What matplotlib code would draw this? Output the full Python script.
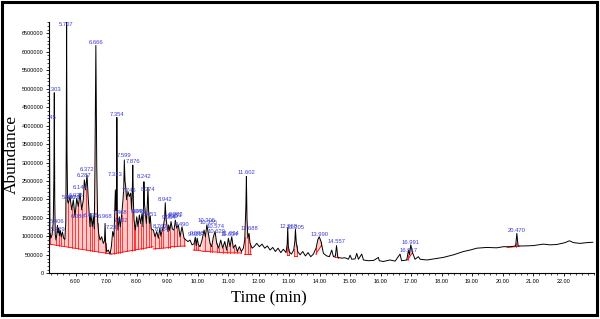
import numpy as np
import matplotlib.pyplot as plt
from matplotlib.ticker import MultipleLocator, FormatStrFormatter
from matplotlib.patches import Rectangle

plt.rcParams['font.family'] = ['Liberation Sans', 'DejaVu Sans']

# total ion chromatogram, time in min, abundance in millions
time = [5.130, 5.145, 5.160, 5.190, 5.230, 5.270, 5.290, 5.303, 5.318, 5.335,
        5.360, 5.385, 5.406, 5.425, 5.449, 5.470, 5.500, 5.530, 5.570, 5.610,
        5.650, 5.680, 5.695, 5.707, 5.720, 5.740, 5.763, 5.818, 5.873, 5.927,
        5.982, 6.037, 6.091, 6.146, 6.201, 6.255, 6.288, 6.332, 6.376, 6.419,
        6.474, 6.500, 6.550, 6.583, 6.615, 6.635, 6.666, 6.695, 6.725, 6.758,
        6.802, 6.857, 6.911, 6.950, 6.968, 6.985, 7.021, 7.075, 7.130, 7.174,
        7.217, 7.261, 7.305, 7.330, 7.342, 7.354, 7.370, 7.392, 7.436, 7.469,
        7.512, 7.556, 7.580, 7.599, 7.620, 7.644, 7.676, 7.720, 7.764, 7.808,
        7.840, 7.860, 7.876, 7.895, 7.917, 7.961, 8.005, 8.048, 8.092, 8.136,
        8.179, 8.212, 8.228, 8.242, 8.258, 8.289, 8.322, 8.350, 8.374, 8.395,
        8.420, 8.451, 8.480, 8.551, 8.606, 8.660, 8.715, 8.763, 8.800, 8.824,
        8.879, 8.920, 8.942, 8.965, 8.988, 9.032, 9.054, 9.090, 9.130, 9.174,
        9.229, 9.273, 9.316, 9.371, 9.426, 9.491, 9.557, 9.623, 9.688, 9.754,
        9.819, 9.885, 9.926, 9.955, 9.988, 10.027, 10.082, 10.148, 10.213, 10.257,
        10.306, 10.355, 10.410, 10.465, 10.519, 10.574, 10.629, 10.694, 10.760, 10.825,
        10.891, 10.956, 11.011, 11.066, 11.121, 11.175, 11.241, 11.306, 11.372, 11.438,
        11.503, 11.547, 11.585, 11.602, 11.620, 11.650, 11.688, 11.722, 11.788, 11.853,
        11.941, 12.028, 12.115, 12.203, 12.290, 12.378, 12.465, 12.553, 12.640, 12.728,
        12.815, 12.903, 12.940, 12.957, 12.975, 13.001, 13.077, 13.154, 13.190, 13.210,
        13.235, 13.285, 13.362, 13.449, 13.537, 13.624, 13.712, 13.799, 13.887, 13.941,
        13.990, 14.050, 14.127, 14.236, 14.324, 14.400, 14.455, 14.520, 14.557, 14.600,
        14.728, 14.838, 14.947, 15.002, 15.056, 15.166, 15.220, 15.275, 15.384, 15.439,
        15.603, 15.780, 15.930, 15.960, 16.090, 16.310, 16.480, 16.640, 16.690, 16.860,
        16.917, 16.950, 16.991, 17.050, 17.130, 17.240, 17.300, 17.520, 17.840, 18.060,
        18.390, 18.720, 18.940, 19.160, 19.480, 19.810, 20.030, 20.250, 20.430, 20.470,
        20.510, 20.690, 21.010, 21.340, 21.560, 21.780, 22.050, 22.190, 22.330, 22.550,
        22.760, 22.960]
abund = [1.80, 4.20, 1.10, 0.95, 1.05, 1.40, 2.60, 4.89, 2.00, 1.05,
         0.90, 1.05, 1.30, 1.10, 1.22, 1.02, 1.16, 0.98, 1.12, 0.95,
         0.92, 1.40, 3.50, 6.79, 3.20, 1.95, 1.90, 2.08, 1.72, 1.99,
         1.53, 2.03, 1.81, 2.17, 1.72, 1.99, 2.53, 2.26, 2.66, 1.99,
         1.26, 1.62, 1.26, 1.53, 1.20, 2.80, 6.17, 2.90, 1.40, 1.08,
         0.90, 0.99, 0.81, 0.88, 1.35, 0.85, 0.59, 0.63, 0.52, 0.72,
         1.13, 0.99, 2.26, 1.70, 1.80, 4.22, 1.60, 1.17, 1.53, 1.26,
         1.58, 1.99, 2.30, 3.07, 2.50, 2.35, 1.99, 2.21, 2.08, 2.17,
         1.72, 2.20, 2.93, 2.00, 1.44, 1.17, 1.53, 1.26, 1.58, 1.35,
         1.62, 1.26, 1.80, 2.48, 1.90, 1.62, 1.35, 1.80, 2.33, 1.70,
         1.35, 1.55, 1.20, 1.17, 0.99, 1.13, 0.95, 1.22, 1.00, 1.10,
         1.26, 1.50, 1.91, 1.50, 1.35, 1.13, 1.31, 1.15, 1.40, 1.20,
         1.17, 1.44, 1.22, 1.31, 0.99, 1.26, 0.95, 0.90, 0.86, 0.90,
         0.77, 0.80, 0.98, 0.75, 0.95, 0.78, 0.72, 0.90, 1.17, 0.99,
         1.31, 1.08, 0.81, 0.72, 0.99, 1.13, 0.81, 0.68, 0.90, 0.68,
         0.86, 0.63, 0.95, 0.72, 0.99, 0.68, 0.77, 0.59, 0.72, 0.59,
         0.68, 0.90, 1.80, 2.62, 1.50, 0.95, 1.08, 0.81, 0.68, 0.72,
         0.81, 0.72, 0.79, 0.68, 0.74, 0.63, 0.70, 0.59, 0.68, 0.56,
         0.65, 0.56, 0.80, 1.24, 0.75, 0.59, 0.52, 0.63, 0.85, 1.19,
         0.85, 0.59, 0.50, 0.59, 0.47, 0.56, 0.45, 0.52, 0.68, 0.90,
         0.99, 0.86, 0.54, 0.47, 0.45, 0.63, 0.45, 0.47, 0.75, 0.43,
         0.41, 0.42, 0.38, 0.49, 0.38, 0.39, 0.54, 0.38, 0.52, 0.36,
         0.34, 0.35, 0.43, 0.34, 0.32, 0.36, 0.33, 0.52, 0.34, 0.36,
         0.63, 0.50, 0.77, 0.56, 0.38, 0.45, 0.38, 0.36, 0.40, 0.43,
         0.50, 0.59, 0.63, 0.68, 0.70, 0.69, 0.72, 0.72, 0.74, 1.08,
         0.74, 0.74, 0.75, 0.79, 0.77, 0.78, 0.83, 0.88, 0.83, 0.81,
         0.83, 0.84]

# integration baselines: start, end, start level, end level (millions)
seg_start = [5.13, 7.18, 8.55, 9.12, 9.86, 10.12, 10.72, 11.52, 12.92, 13.15, 13.88, 14.50, 16.88, 20.15]
seg_end = [7.18, 8.55, 9.12, 9.60, 10.10, 10.70, 11.45, 11.75, 13.00, 13.26, 14.06, 14.62, 17.05, 20.55]
seg_b0 = [0.79, 0.52, 0.66, 0.72, 0.63, 0.60, 0.56, 0.52, 0.50, 0.47, 0.52, 0.43, 0.36, 0.70]
seg_b1 = [0.52, 0.72, 0.70, 0.74, 0.62, 0.57, 0.55, 0.52, 0.50, 0.47, 0.75, 0.42, 0.56, 0.73]

# peak split times (red drop lines)
drops = [5.16, 5.36, 5.47, 5.53, 5.61, 5.74, 5.87, 5.98, 6.09, 6.20, 6.33, 6.47, 6.55, 6.61,
         6.73, 6.95, 6.99, 7.26, 7.33, 7.39, 7.47, 7.51, 7.68, 7.84, 7.92, 7.96, 8.05, 8.14,
         8.21, 8.32, 8.42, 8.48, 8.61, 8.72, 8.80, 8.88, 9.03, 9.09, 9.23, 9.32, 9.43, 9.56,
         9.89, 9.96, 10.03, 10.26, 10.41, 10.47, 10.63, 10.69, 10.83, 10.96, 11.07, 11.18,
         11.31, 11.44, 11.55, 11.65, 11.72, 12.93, 12.99, 13.16, 13.25, 13.89, 14.05, 14.52,
         14.60, 16.89, 17.04, 20.44, 20.51]

peak_names = ["5.145", "5.303", "5.406", "5.429", "5.707", "5.830", "5.979", "6.036", "6.086",
              "6.144", "6.287", "6.372", "6.496", "6.666", "6.968", "7.232", "7.313", "7.354",
              "7.468", "7.502", "7.599", "7.746", "7.876", "8.048", "8.092", "8.242", "8.374",
              "8.451", "8.763", "8.824", "8.942", "9.054", "9.130", "9.251", "9.282", "9.490",
              "9.926", "9.988", "10.306", "10.355", "10.574", "10.629", "11.034", "11.094",
              "11.602", "11.688", "12.968", "13.205", "13.990", "14.557", "16.917", "16.991",
              "20.470"]
peak_t = [5.145, 5.303, 5.406, 5.430, 5.707, 5.800, 5.930, 6.020, 6.070,
          6.144, 6.287, 6.372, 6.496, 6.666, 6.968, 7.232, 7.313, 7.354,
          7.468, 7.502, 7.599, 7.746, 7.876, 8.048, 8.092, 8.242, 8.374,
          8.451, 8.763, 8.824, 8.942, 9.054, 9.130, 9.251, 9.282, 9.490,
          9.926, 9.988, 10.306, 10.355, 10.574, 10.629, 11.034, 11.094,
          11.602, 11.688, 12.968, 13.205, 13.990, 14.557, 16.917, 16.991,
          20.470]
peak_lab = [4.23, 4.98, 1.40, 1.19, 6.73, 2.05, 2.06, 2.12, 1.55,
            2.31, 2.64, 2.81, 1.57, 6.25, 1.53, 1.25, 2.68, 4.31,
            1.64, 1.42, 3.18, 2.24, 3.02, 1.67, 1.67, 2.61, 2.28,
            1.58, 1.28, 1.19, 2.00, 1.51, 1.55, 1.57, 1.60, 1.31,
            1.05, 1.08, 1.42, 1.38, 1.28, 1.12, 1.04, 1.08,
            2.72, 1.20, 1.28, 1.25, 1.06, 0.85, 0.63, 0.84,
            1.17]

t = np.array(time)
a = np.array(abund) * 1e6

fig = plt.figure(figsize=(6, 3.19), dpi=100)
ax = fig.add_axes([0.0817, 0.1433, 0.9083, 0.7887])

# integrated areas
for t0, t1, b0, b1 in zip(seg_start, seg_end, seg_b0, seg_b1):
    inside = (t > t0) & (t < t1)
    st = np.concatenate([[t0], t[inside], [t1]])
    sa = np.interp(st, t, a)
    sb = np.interp(st, [t0, t1], [b0 * 1e6, b1 * 1e6])
    ax.fill_between(st, sb, sa, where=sa > sb, interpolate=True,
                    color='#ff8a8a', alpha=0.45, lw=0, zorder=1)
    ax.plot([t0, t1], [b0 * 1e6, b1 * 1e6], color='red', lw=0.6, zorder=2)
    for d in drops:
        if t0 <= d <= t1:
            bd = np.interp(d, [t0, t1], [b0 * 1e6, b1 * 1e6])
            ax.plot([d, d], [bd, np.interp(d, t, a)], color='red', lw=0.5, zorder=2)

ax.plot(t, a, color='black', lw=0.7, zorder=3)

for name, pt, pl in zip(peak_names, peak_t, peak_lab):
    ax.text(pt, pl * 1e6, name, color='#3c3cd8', fontsize=4.2, ha='center', va='center',
            clip_on=True, zorder=4)

ax.set_xlim(5.13, 23.0)
ax.set_ylim(0, 6.814e6)
ax.set_xticks(np.arange(6, 23, 1.0))
ax.xaxis.set_major_formatter(FormatStrFormatter('%.2f'))
ax.xaxis.set_minor_locator(MultipleLocator(0.2))
ax.set_yticks(np.arange(0, 6.6e6, 5e5))
ax.yaxis.set_major_formatter(FormatStrFormatter('%d'))
ax.yaxis.set_minor_locator(MultipleLocator(1e5))
ax.tick_params(axis='both', which='major', labelsize=4, length=2.5, width=0.6, pad=1.5)
ax.tick_params(axis='both', which='minor', length=1.2, width=0.5)
ax.spines['top'].set_visible(False)
ax.spines['right'].set_visible(False)
ax.spines['left'].set_linewidth(0.8)
ax.spines['bottom'].set_linewidth(0.8)

fig.text(0.02, 0.515, 'Abundance', rotation=90, ha='center', va='center',
         fontsize=12.5, family='Liberation Serif')
fig.text(0.448, 0.065, 'Time (min)', ha='center', va='center',
         fontsize=12, family='Liberation Serif')

fig.patches.append(Rectangle((0.0025, 0.0125), 0.993, 0.981, transform=fig.transFigure,
                             fill=False, edgecolor='black', lw=2.2))

fig.savefig('out.png', dpi=100)
